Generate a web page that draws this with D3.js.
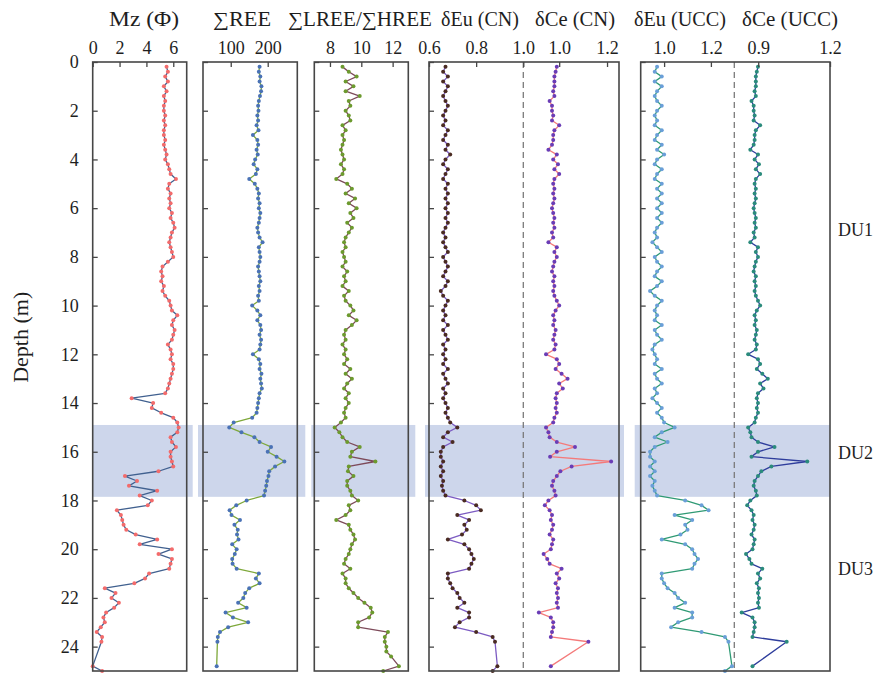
<!DOCTYPE html>
<html>
<head>
<meta charset="utf-8">
<script src="https://cdn.jsdelivr.net/npm/d3@7"></script>
<style>
  body { margin: 0; background: #fff; }
  svg { display: block; }
  svg text { font-family: "Liberation Serif", "DejaVu Serif", serif !important; fill: #1e1e1e; }
</style>
</head>
<body>
<svg id="chart" width="876" height="673"></svg>
<script>
// Sample depths (m)
const depth = [
  0.2,0.4,0.6,0.8,1.0,1.2,1.4,1.6,1.8,2.0,
  2.2,2.4,2.6,2.8,3.0,3.2,3.4,3.6,3.8,4.0,
  4.2,4.4,4.6,4.8,5.0,5.2,5.4,5.6,5.8,6.0,
  6.2,6.4,6.6,6.8,7.0,7.2,7.4,7.6,7.8,8.0,
  8.2,8.4,8.6,8.8,9.0,9.2,9.4,9.6,9.8,10.0,
  10.2,10.4,10.6,10.8,11.0,11.2,11.4,11.6,11.8,12.0,
  12.2,12.4,12.6,12.8,13.0,13.2,13.4,13.6,13.8,14.0,
  14.2,14.4,14.6,14.8,15.0,15.2,15.4,15.6,15.8,16.0,
  16.2,16.4,16.6,16.8,17.0,17.2,17.4,17.6,17.8,18.0,
  18.2,18.4,18.6,18.8,19.0,19.2,19.4,19.6,19.8,20.0,
  20.2,20.4,20.6,20.8,21.0,21.2,21.4,21.6,21.8,22.0,
  22.2,22.4,22.6,22.8,23.0,23.2,23.4,23.6,23.8,24.0,
  24.2,24.4,24.6,24.8,25.0
];

// Mean grain size Mz (Φ)
const mz = [
  5.5,5.6,5.4,5.6,5.3,5.5,5.3,5.4,5.3,5.3,
  5.4,5.3,5.4,5.3,5.3,5.4,5.3,5.4,5.5,5.4,
  5.6,5.7,5.8,6.2,5.7,5.6,5.8,5.7,5.8,5.7,
  5.9,5.8,6.0,6.1,5.9,5.8,5.7,5.8,5.9,6.0,
  5.6,5.2,5.1,5.2,5.1,5.3,5.2,5.4,5.7,5.8,
  5.9,6.3,6.0,5.9,6.1,6.0,5.9,5.6,5.8,5.9,
  5.8,6.0,6.0,5.9,5.8,5.7,5.6,5.4,2.9,4.5,
  4.4,5.1,6.0,6.3,6.4,6.3,5.8,5.9,6.2,5.8,
  5.8,5.9,6.0,4.9,2.4,3.3,2.7,4.8,3.5,4.4,
  4.1,1.8,2.1,2.2,2.3,2.5,3.2,4.8,3.5,5.9,
  4.9,5.9,5.8,5.7,4.2,3.9,3.1,0.9,1.7,1.4,
  1.95,1.6,1.0,0.8,0.9,0.6,0.3,0.7,0.65,null,
  null,null,null,0.0,0.7
];

// ∑REE
const sumREE = [
  178,176,180,178,183,182,179,176,174,175,
  172,174,170,175,160,172,174,170,173,166,
  162,172,168,150,165,172,176,174,178,176,
  180,178,176,172,174,178,186,176,178,180,
  178,174,176,178,180,176,178,174,176,158,
  172,180,172,180,182,178,182,180,178,160,
  176,180,178,183,180,182,184,178,176,174,
  172,170,158,108,96,129,164,178,209,200,
  224,245,220,204,202,198,196,193,190,143,
  115,97,102,125,110,119,117,121,104,116,
  111,104,105,116,176,168,178,150,139,134,
  120,143,86,106,147,93,71,65,64,null,
  null,null,null,62,null
];

// ∑LREE/∑HREE
const lreeHree = [
  8.8,9.2,9.7,9.0,9.5,9.0,9.9,9.2,9.3,9.0,
  9.2,9.3,8.8,9.0,8.8,8.9,8.8,8.7,8.8,8.9,
  8.7,8.9,8.8,8.4,9.1,9.4,9.0,9.6,9.2,9.7,
  9.3,9.5,9.1,9.4,9.2,9.0,8.9,9.0,8.8,8.9,
  9.0,8.8,9.1,8.9,9.0,8.8,9.2,8.9,9.0,9.3,
  9.5,9.2,9.7,9.4,9.0,8.9,9.0,8.8,9.0,8.9,
  9.1,8.9,9.3,9.0,9.4,9.1,8.9,9.2,9.0,9.2,
  9.0,8.9,9.0,8.7,8.3,8.6,8.8,9.1,9.9,9.4,
  9.3,10.9,9.2,9.15,9.5,9.1,9.1,9.3,9.4,9.8,
  9.2,9.3,9.0,8.4,9.2,9.3,9.5,9.6,9.4,9.3,
  9.2,9.0,8.9,9.3,8.8,9.0,9.0,9.2,9.5,9.8,
  10.2,10.6,10.7,10.5,9.8,9.8,11.7,11.5,11.5,11.6,
  11.6,11.9,null,12.4,11.4
];

// δEu (chondrite-normalised)
const euCN = [
  0.67,0.66,0.68,0.66,0.68,0.67,0.66,0.67,0.68,0.67,
  0.66,0.67,0.66,0.68,0.67,0.66,0.68,0.67,0.69,0.67,
  0.66,0.68,0.67,0.66,0.68,0.67,0.68,0.67,0.68,0.67,
  0.68,0.67,0.68,0.67,0.66,0.67,0.66,0.67,0.68,0.66,
  0.67,0.68,0.67,0.66,0.68,0.67,0.65,0.66,0.68,0.67,
  0.66,0.67,0.66,0.68,0.66,0.67,0.68,0.66,0.67,0.66,
  0.67,0.66,0.68,0.66,0.67,0.68,0.66,0.67,0.66,0.67,
  0.68,0.67,0.68,0.69,0.72,0.68,0.66,0.70,0.66,0.65,
  0.65,0.66,0.65,0.66,0.65,0.66,0.655,0.66,0.67,0.75,
  0.80,0.82,0.72,0.77,0.75,0.76,0.74,0.68,0.75,0.77,
  0.78,0.79,0.78,0.77,0.68,0.68,0.69,0.70,0.72,0.73,
  0.75,0.72,0.77,0.77,0.73,0.71,0.80,0.87,0.88,null,
  null,null,null,0.89,0.87
];

// δCe (chondrite-normalised)
const ceCN = [
  0.99,0.985,0.98,0.98,0.98,0.975,0.98,0.96,0.97,0.97,
  0.975,0.97,1.0,0.98,0.975,0.975,0.97,0.955,0.99,0.975,
  0.995,0.98,1.0,0.98,0.975,0.98,0.975,0.98,0.975,0.97,
  0.975,0.98,0.975,0.98,0.97,0.975,0.955,0.99,0.98,0.99,
  0.98,0.975,0.97,0.98,0.975,0.98,0.975,0.98,0.99,1.0,
  0.985,0.975,0.98,0.975,0.985,0.98,0.975,0.985,0.98,0.945,
  0.99,1.0,0.985,1.01,1.035,1.0,1.015,0.99,0.985,0.99,
  0.985,0.99,0.98,0.975,0.945,0.955,0.96,0.99,1.066,0.99,
  0.962,1.217,1.052,1.005,0.99,0.975,0.97,0.98,0.985,0.955,
  0.94,0.96,0.97,0.965,0.975,0.97,0.96,0.975,0.97,0.965,
  0.935,0.95,0.96,1.01,0.99,1.0,0.985,0.995,0.99,0.995,
  0.99,0.995,0.915,0.965,0.975,0.975,0.97,0.965,1.122,null,
  null,null,null,0.965,null
];

// δEu (UCC-normalised)
const euUCC = [
  0.97,0.96,0.99,0.96,0.99,0.97,0.96,0.97,0.99,0.97,
  0.96,0.97,0.96,0.99,0.97,0.96,0.99,0.97,1.0,0.97,
  0.96,0.99,0.97,0.96,0.99,0.97,0.99,0.97,0.99,0.97,
  0.99,0.97,0.99,0.97,0.96,0.97,0.95,0.97,0.99,0.96,
  0.97,0.99,0.97,0.96,0.99,0.97,0.94,0.96,0.99,0.97,
  0.96,0.97,0.96,0.99,0.96,0.97,0.99,0.96,0.95,0.96,
  0.97,0.96,0.99,0.96,0.97,0.99,0.96,0.97,0.95,0.97,
  0.99,0.97,0.99,1.0,1.045,0.99,0.96,1.015,0.96,0.94,
  0.94,0.96,0.94,0.96,0.94,0.96,0.95,0.96,0.97,1.09,
  1.16,1.19,1.045,1.12,1.09,1.10,1.07,0.99,1.09,1.12,
  1.13,1.145,1.13,1.12,0.99,0.99,1.0,1.015,1.045,1.06,
  1.09,1.045,1.12,1.12,1.06,1.03,1.16,1.26,1.275,null,
  null,null,null,1.29,1.26
];

// δCe (UCC-normalised)
const ceUCC = [
  0.899,0.894,0.89,0.89,0.89,0.885,0.89,0.872,0.881,0.881,
  0.885,0.881,0.908,0.89,0.885,0.885,0.881,0.867,0.899,0.885,
  0.903,0.89,0.908,0.89,0.885,0.89,0.885,0.89,0.885,0.881,
  0.885,0.89,0.885,0.89,0.881,0.885,0.867,0.899,0.89,0.899,
  0.89,0.885,0.881,0.89,0.885,0.89,0.885,0.89,0.899,0.908,
  0.894,0.885,0.89,0.885,0.894,0.89,0.885,0.894,0.89,0.858,
  0.899,0.908,0.894,0.917,0.94,0.908,0.922,0.899,0.894,0.899,
  0.894,0.899,0.89,0.885,0.858,0.867,0.872,0.899,0.968,0.899,
  0.872,1.105,0.955,0.913,0.899,0.885,0.881,0.89,0.894,0.867,
  0.854,0.872,0.881,0.876,0.885,0.881,0.872,0.885,0.881,0.876,
  0.849,0.863,0.872,0.917,0.899,0.908,0.894,0.903,0.899,0.903,
  0.899,0.903,0.831,0.876,0.885,0.885,0.881,0.876,1.019,null,
  null,null,null,0.876,null
];

// Axis ticks
const depthTicks = [0,2,4,6,8,10,12,14,16,18,20,22,24];
const mzTicks = [0,2,4,6];
const reeTicks = [100,200];
const ratioTicks = [8,10,12];
const euCNTicks = [0.6,0.8,1.0];
const ceCNTicks = [1.0,1.2];
const euUCCTicks = [1.0,1.2];
const ceUCCTicks = [0.9,1.2];

// Depositional units and the highlighted DU2 interval
const unitNames = ["DU1","DU2","DU3"];
const unitDepths = [6.9,16.05,20.8];
const du2Interval = [14.9,17.85];

// Panel titles
const titles = ["Mz (Φ)","∑REE","∑LREE/∑HREE","δEu (CN)","δCe (CN)","δEu (UCC)","δCe (UCC)"];

// ---------- layout ----------
const serif = "'Liberation Serif', 'DejaVu Serif', serif";
const svg = d3.select("#chart");
const yTop = 62, yBottom = 671;
const y = d3.scaleLinear().domain([0,25]).range([yTop,yBottom]);

const panels = [
  {x0:92.7,  x1:186.7, padL:0, padR:6},
  {x0:203,   x1:297.3, padL:5, padR:8},
  {x0:314.3, x1:408.3, padL:3, padR:7},
  {x0:429,   x1:619,   padL:4, padR:5},
  {x0:640.7, x1:830,   padL:6, padR:0}
];

const xMz   = d3.scaleLinear().domain([0,7]).range([92.7,186.7]);
const xRee  = d3.scaleLinear().domain([25,280]).range([203,297.3]);
const xRat  = d3.scaleLinear().domain([7,13]).range([314.3,408.3]);
const xEuCN = d3.scaleLinear().domain([0.6,1.0]).range([429,523.3]);
const xCeCN = d3.scaleLinear().domain([0.85,1.25]).range([523.3,619]);
const xEuU  = d3.scaleLinear().domain([0.9,1.3]).range([640.7,734.3]);
const xCeU  = d3.scaleLinear().domain([0.8,1.2]).range([734.3,830]);

// DU2 band behind each panel
svg.append("g").selectAll("rect").data(panels).join("rect")
  .attr("x", p => p.x0 - p.padL)
  .attr("width", p => (p.x1 + p.padR) - (p.x0 - p.padL))
  .attr("y", y(du2Interval[0]))
  .attr("height", y(du2Interval[1]) - y(du2Interval[0]))
  .attr("fill", "#cdd6eb");

// reference (dashed) lines between paired sub-axes
[xEuCN(1.0), xEuU(1.3)].forEach(xv => {
  svg.append("line")
    .attr("x1", xv).attr("x2", xv).attr("y1", yTop).attr("y2", yBottom)
    .attr("stroke", "#7a7a7a").attr("stroke-width", 1.3)
    .attr("stroke-dasharray", "6,4");
});

// profiles
const series = [
  {vals: mz,       x: xMz,   line: "#40608f", dot: "#f36b6b"},
  {vals: sumREE,   x: xRee,  line: "#7ea83a", dot: "#4a72b6"},
  {vals: lreeHree, x: xRat,  line: "#7d4a5a", dot: "#6c9a2e"},
  {vals: euCN,     x: xEuCN, line: "#7c5bc2", dot: "#4a2b22"},
  {vals: ceCN,     x: xCeCN, line: "#f47a7a", dot: "#6a3db6"},
  {vals: euUCC,    x: xEuU,  line: "#2f9a74", dot: "#6a9fd8"},
  {vals: ceUCC,    x: xCeU,  line: "#2e3d9c", dot: "#2b8b7c"}
];

series.forEach(s => {
  const pts = depth.map((d, i) => ({d: d, v: s.vals[i]})).filter(p => p.v != null);
  const g = svg.append("g");
  g.append("path").datum(pts)
    .attr("fill", "none").attr("stroke", s.line).attr("stroke-width", 1.3)
    .attr("stroke-linejoin", "round")
    .attr("d", d3.line().x(p => s.x(p.v)).y(p => y(p.d)));
  g.selectAll("circle").data(pts).join("circle")
    .attr("cx", p => s.x(p.v)).attr("cy", p => y(p.d))
    .attr("r", 2).attr("fill", s.dot);
});

// panel frames
svg.append("g").selectAll("rect").data(panels).join("rect")
  .attr("x", p => p.x0).attr("y", yTop)
  .attr("width", p => p.x1 - p.x0).attr("height", yBottom - yTop)
  .attr("fill", "none").attr("stroke", "#464646").attr("stroke-width", 1.6);

// top axes (ticks point into the panel)
function topAxis(scale, ticks, fmt) {
  const g = svg.append("g").attr("transform", `translate(0,${yTop})`)
    .call(d3.axisTop(scale).tickValues(ticks).tickFormat(d3.format(fmt))
      .tickSizeInner(-5).tickSizeOuter(0).tickPadding(8));
  g.attr("font-family", serif);
  g.select(".domain").remove();
  g.selectAll(".tick line").attr("stroke", "#464646").attr("stroke-width", 1.3);
  g.selectAll(".tick text").attr("font-size", 18).attr("fill", "#1e1e1e")
    .style("font-family", serif);
}
topAxis(xMz, mzTicks, "d");
topAxis(xRee, reeTicks, "d");
topAxis(xRat, ratioTicks, "d");
topAxis(xEuCN, euCNTicks, ".1f");
topAxis(xCeCN, ceCNTicks, ".1f");
topAxis(xEuU, euUCCTicks, ".1f");
topAxis(xCeU, ceUCCTicks, ".1f");

// depth axes on the left edge of every panel
panels.forEach((p, i) => {
  const ax = d3.axisLeft(y).tickValues(depthTicks).tickSizeInner(-5).tickSizeOuter(0).tickPadding(14);
  if (i > 0) ax.tickFormat("");
  const g = svg.append("g").attr("transform", `translate(${p.x0},0)`).call(ax);
  g.attr("font-family", serif);
  g.select(".domain").remove();
  g.selectAll(".tick line").attr("stroke", "#464646").attr("stroke-width", 1.3);
  g.selectAll(".tick text").attr("font-size", 18).attr("fill", "#1e1e1e")
    .style("font-family", serif);
});

// panel titles, each fitted to its set width
const titleX = [144, 242, 360, 480, 575, 680, 790];
const titleW = [70, 58, 144, 78, 80, 92, 96];
svg.append("g").selectAll("text").data(titles).join("text")
  .attr("x", (d, i) => titleX[i]).attr("y", 26)
  .attr("text-anchor", "middle").attr("font-size", 20)
  .attr("textLength", (d, i) => titleW[i])
  .attr("lengthAdjust", "spacingAndGlyphs")
  .style("font-family", serif)
  .text(d => d);

// depth label
svg.append("text")
  .attr("transform", `translate(28,${y(11.3)}) rotate(-90)`)
  .attr("text-anchor", "middle").attr("font-size", 22)
  .style("font-family", serif)
  .text("Depth (m)");

// unit labels
svg.append("g").selectAll("text").data(unitNames).join("text")
  .attr("x", 838).attr("y", (d, i) => y(unitDepths[i]))
  .attr("dy", "0.35em").attr("font-size", 18)
  .style("font-family", serif)
  .text(d => d);
</script>
</body>
</html>
